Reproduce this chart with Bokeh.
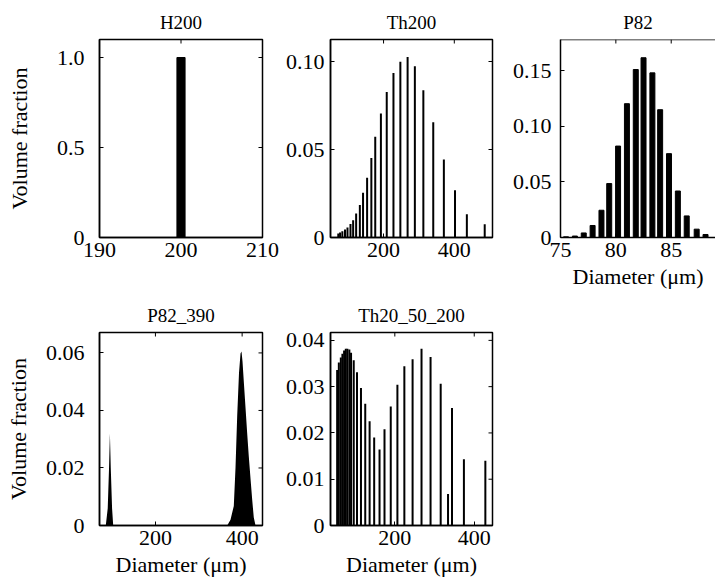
import math
from bokeh.plotting import figure
from bokeh.layouts import column, row
from bokeh.models import Range1d, FixedTicker, CustomJSTickFormatter, Span
from bokeh.embed import file_html
from bokeh.resources import INLINE

FONT = "Liberation Serif"
FS = "22px"

# ---------------- data ----------------
h200_d = [200.0]
h200_v = [1.0]

th200_d = [72, 77, 83.5, 91, 98, 106.5, 114, 122.5, 133, 142, 153.5, 165.5, 176.5,
           192.5, 209, 228, 247.5, 268, 288.5, 312.5, 340.5, 370.5, 402, 435.5, 486]
th200_v = [0.0023, 0.0028, 0.0036, 0.0045, 0.0057, 0.0076, 0.0098, 0.0136, 0.0185,
           0.0254, 0.0339, 0.0451, 0.0572, 0.0704, 0.0826, 0.0935, 0.0998, 0.1026,
           0.0973, 0.0837, 0.0655, 0.0443, 0.0269, 0.0132, 0.0075]

p82_d = [75.5, 76.3, 77.1, 77.9, 78.7, 79.4, 80.2, 81.0, 81.8, 82.5, 83.3, 84.0,
         84.8, 85.6, 86.4, 87.3, 88.1]
p82_v = [0.0006, 0.0013, 0.0041, 0.0108, 0.0245, 0.0485, 0.0822, 0.1203, 0.151,
         0.1616, 0.148, 0.1149, 0.0754, 0.0418, 0.0194, 0.0075, 0.0027]

p82_390_d = [85.5, 90, 93, 95, 97, 100, 102.6,
             365.6, 373.2, 380.8, 384.7, 388.6, 392.8, 396.3, 398.6, 400.9, 403.9,
             407.8, 411.7, 415.4, 419.3, 423.2, 426.9, 430.9]
p82_390_v = [0.0, 0.006, 0.02, 0.032, 0.02, 0.006, 0.0,
             0.0, 0.002, 0.0068, 0.02, 0.038, 0.053, 0.0598, 0.0605, 0.057, 0.050,
             0.041, 0.032, 0.024, 0.0164, 0.009, 0.0028, 0.0]

th20_d = [54.75, 59, 64, 68, 72.25, 76.5, 80.5, 85.5, 89.75, 96.5, 104.75, 114.75,
          125.5, 136.5, 148, 161.5, 174, 189.75, 206.5, 224, 244.75, 267.25, 290,
          315.5, 334, 344, 374, 428]
th20_v = [0.0336, 0.0352, 0.0363, 0.0371, 0.0378, 0.0382, 0.0382, 0.038, 0.0373,
          0.0357, 0.0331, 0.0297, 0.0263, 0.0225, 0.019, 0.0164, 0.0208, 0.0257,
          0.0304, 0.0344, 0.0359, 0.0382, 0.0364, 0.0306, 0.0068, 0.0254, 0.0143,
          0.014]

titles = ["H200", "Th200", "P82", "P82_390", "Th20_50_200"]
ylabel = "Volume fraction"
xlabel = "Diameter (\u03bcm)"


def fmt(decimals):
    return CustomJSTickFormatter(
        code="return tick == 0 ? '0' : tick.toFixed(%d);" % decimals)


def style_axis(ax, ticks, standoff=5, formatter=None):
    ax.ticker = FixedTicker(ticks=ticks, minor_ticks=[])
    ax.major_tick_in = 4
    ax.major_tick_out = 0
    ax.minor_tick_in = 0
    ax.minor_tick_out = 0
    ax.axis_line_width = 1.5
    ax.axis_line_color = "black"
    ax.major_tick_line_color = "black"
    ax.major_tick_line_width = 1
    ax.major_label_text_font = FONT
    ax.major_label_text_font_size = FS
    ax.major_label_text_color = "black"
    ax.major_label_standoff = standoff
    if formatter is not None:
        ax.formatter = formatter


def label_style(ax, text, standoff):
    ax.axis_label = text
    ax.axis_label_text_font = FONT
    ax.axis_label_text_font_style = "normal"
    ax.axis_label_text_font_size = FS
    ax.axis_label_text_color = "black"
    ax.axis_label_standoff = standoff


def make(title, w, h, bl, br, bt, bb, xr, yr, xt, yt, ydec, ystand,
         xlab=None, ylab=None, ylab_stand=10, right_edge=True, title_offset=0):
    p = figure(width=w, height=h, x_range=Range1d(*xr), y_range=Range1d(*yr),
               output_backend="svg", toolbar_location=None, title=title,
               min_border_left=bl, min_border_right=br, min_border_top=bt,
               min_border_bottom=bb)
    p.xgrid.visible = False
    p.ygrid.visible = False
    p.background_fill_color = "white"
    p.border_fill_color = "white"
    p.title.align = "center"
    p.title.offset = title_offset
    p.title.text_font = FONT
    p.title.text_font_style = "normal"
    p.title.text_font_size = "19px"
    p.title.text_color = "black"
    p.title.standoff = 14
    xa = p.xaxis[0]
    ya = p.yaxis[0]
    style_axis(xa, xt, standoff=5)
    style_axis(ya, yt, standoff=ystand, formatter=fmt(ydec))
    if right_edge:
        p.outline_line_color = "black"
        p.outline_line_width = 1.5
        p.outline_line_alpha = 1.0
        # mirrored inward ticks on the right edge
        p.ray(x=[xr[1]] * len(yt), y=yt, length=4, length_units="screen",
              angle=math.pi, line_color="black", line_width=1)
    else:
        p.outline_line_color = None
        p.add_layout(Span(location=yr[1], dimension="width", line_color="black",
                          line_width=1.5))
    # mirrored inward ticks on the top edge
    p.ray(x=xt, y=[yr[1]] * len(xt), length=4, length_units="screen",
          angle=-math.pi / 2, line_color="black", line_width=1)
    if xlab:
        label_style(xa, xlab, 4)
    if ylab:
        label_style(ya, ylab, ylab_stand)
    return p


p1 = make(titles[0], 282, 295, 99, 20, 39, 58, (190, 210), (0, 1.1),
          [190, 200, 210], [0, 0.5, 1.0], 1, 15, ylab=ylabel, ylab_stand=22)
p1.vbar(x=h200_d, top=h200_v, width=1.0, color="black")

p2 = make(titles[1], 226, 295, 46, 16, 39, 58, (50, 508), (0, 0.1125),
          [200, 400], [0, 0.05, 0.10], 2, 6)
p2.segment(x0=th200_d, y0=[0] * len(th200_d), x1=th200_d, y1=th200_v,
           line_width=2, line_color="black")

p3 = make(titles[2], 207, 295, 52, 0, 39, 58, (75, 89), (0, 0.178),
          [75, 80, 85], [0, 0.05, 0.10, 0.15], 2, 9, xlab=xlabel,
          right_edge=False, title_offset=10)
p3.vbar(x=p82_d, top=p82_v, width=0.45, color="black")

p4 = make(titles[3], 282, 288, 99, 20, 33, 58, (71, 447), (0, 0.0671),
          [200, 400], [0, 0.02, 0.04, 0.06], 2, 15, xlab=xlabel, ylab=ylabel,
          ylab_stand=12)
p4.varea(x=p82_390_d, y1=[0] * len(p82_390_d), y2=p82_390_v, fill_color="black")

p5 = make(titles[4], 226, 288, 46, 16, 33, 58, (38, 446), (0, 0.0417),
          [200, 400], [0, 0.01, 0.02, 0.03, 0.04], 2, 6, xlab=xlabel)
p5.segment(x0=th20_d, y0=[0] * len(th20_d), x1=th20_d, y1=th20_v,
           line_width=2, line_color="black")

layout = column(row(p1, p2, p3), row(p4, p5))

with open("out.html", "w") as f:
    f.write(file_html(layout, INLINE))
